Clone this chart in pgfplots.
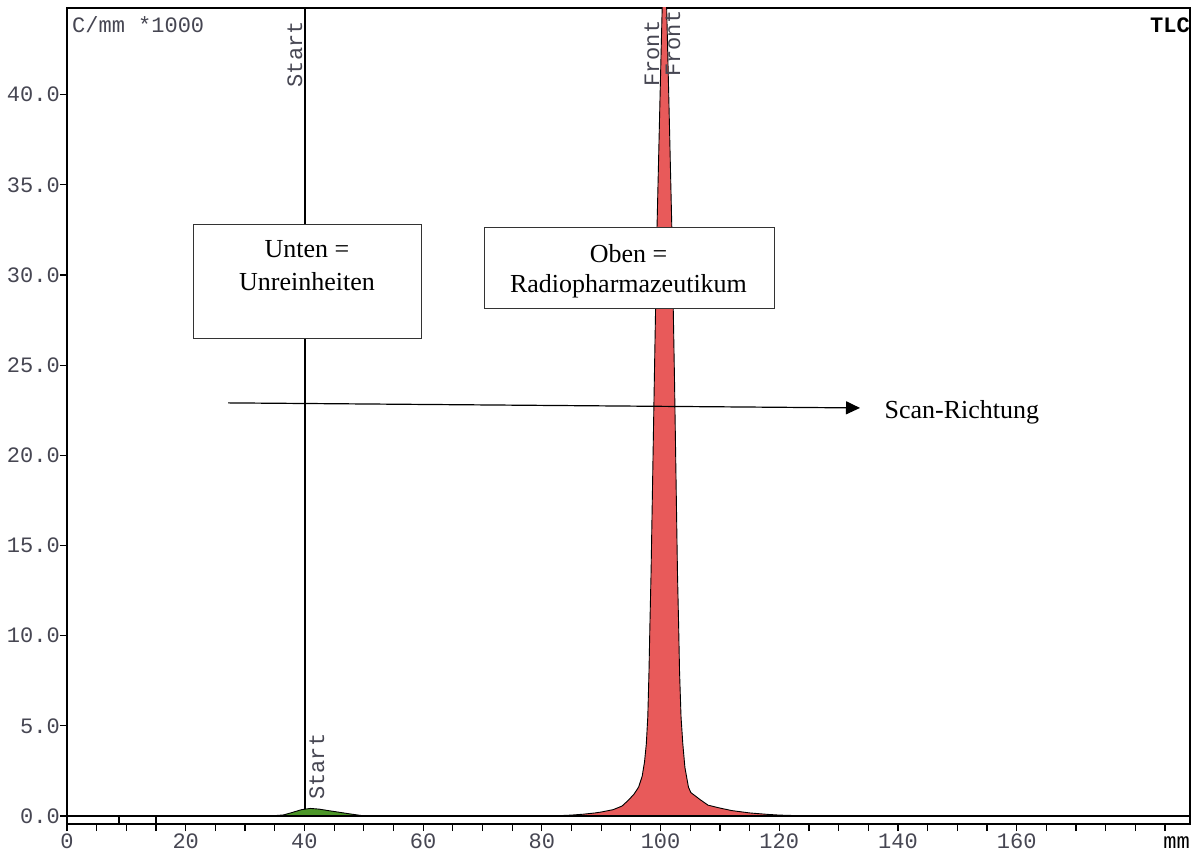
\documentclass[border=0pt]{standalone}
\usepackage{fontspec}
\setmainfont{Liberation Serif}
\setmonofont{Liberation Mono}
\usepackage{pgfplots}
\pgfplotsset{compat=1.18}
\usetikzlibrary{arrows.meta}
\definecolor{peakred}{RGB}{232,90,90}
\definecolor{peakgreen}{RGB}{76,150,40}
\definecolor{lblgray}{RGB}{70,70,82}
\newcommand\mono{\ttfamily\fontsize{22bp}{26bp}\selectfont}
\newcommand\serif{\rmfamily\fontsize{26bp}{32bp}\selectfont}
\begin{document}
\begin{tikzpicture}
\useasboundingbox (0,0) rectangle (1195bp,853bp);
\begin{axis}[
  at={(67bp,29bp)}, anchor=south west,
  width=1123bp, height=816bp, scale only axis,
  xmin=0, xmax=189.2, ymin=-0.444, ymax=44.81,
  axis line style={line width=1.3bp},
  clip mode=individual,
  xtick={0,5,...,185},
  xticklabels={0,,,,20,,,,40,,,,60,,,,80,,,,100,,,,120,,,,140,,,,160,,,,,,},
  ytick={0,5,...,40},
  yticklabels={0.0,5.0,10.0,15.0,20.0,25.0,30.0,35.0,40.0},
  tick align=outside, xtick pos=bottom, ytick pos=left,
  major tick length=7bp,
  tick style={line width=1.2bp, black},
  xticklabel style={font=\mono, text=lblgray, inner sep=0pt, yshift=-3bp},
  yticklabel style={font=\mono, text=lblgray, inner sep=0pt},
]
% vertical marker lines
\draw[line width=1.2bp] (axis cs:40.1,0) -- (axis cs:40.1,44.81);
\draw[line width=2.5bp] (axis cs:100.45,0) -- (axis cs:100.45,44.81);
% main peak
\addplot[draw=black, line width=0.9bp, fill=peakred] coordinates {
 (82,0) (83,0.02) (85,0.05) (87,0.1) (89,0.17) (90,0.22) (92,0.35)
 (93.5,0.55) (94.5,0.85) (95.5,1.2) (96.3,1.6) (96.9,2.2) (97.3,3.0) (97.6,4.0) (97.85,5.5)
 (98.05,8) (98.2,10.5) (98.4,13.5) (98.95,24.2) (99.4,32.6) (99.9,39.7) (100.65,50)
 (101.4,39.7) (101.9,32.6) (102.35,24.2) (102.85,13.5) (103.05,10.5) (103.2,8)
 (103.45,5.5) (103.75,4.0) (104.1,2.7) (104.7,1.6) (105.1,1.3) (106.7,0.9) (108,0.6)
 (110,0.44) (112,0.3) (115,0.17) (118,0.09) (120,0.05) (123,0.02) (124,0)
} \closedcycle;
% impurity peak
\addplot[draw=black, line width=0.9bp, fill=peakgreen] coordinates {
 (34.5,0) (35,0.02) (36.5,0.06) (38,0.2) (39.5,0.35) (41,0.42) (42.5,0.38)
 (44,0.3) (46,0.2) (48,0.1) (49.5,0.03) (51,0.01) (51.5,0)
} \closedcycle;
% baseline
\draw[line width=1.2bp] (axis cs:0,0) -- (axis cs:189.2,0);
% small region marks
\draw[line width=1.2bp] (axis cs:8.76,0) -- (axis cs:8.76,-0.444);
\draw[line width=1.2bp] (axis cs:15.0,0) -- (axis cs:15.0,-0.444);
\draw[line width=1.2bp] (axis cs:8.76,44.81) -- ++(0,-9bp);
\draw[line width=1.2bp] (axis cs:15.0,44.81) -- ++(0,-9bp);
% arrow
\draw[line width=1.2bp, -{Triangle[length=14bp,width=13bp]}] (axis cs:27.13,22.91) -- (axis cs:133.6,22.63);
\node[font=\serif, anchor=base west] at (axis cs:137.15,22.07) {Scan-Richtung};
% boxes
\draw[line width=1bp, draw=black!80, fill=white] (axis cs:21.23,32.83) rectangle (axis cs:59.65,26.46);
\node[font=\serif, anchor=base] at (axis cs:40.44,30.95) {Unten =};
\node[font=\serif, anchor=base] at (axis cs:40.44,29.17) {Unreinheiten};
\draw[line width=1bp, draw=black!80, fill=white] (axis cs:70.26,32.61) rectangle (axis cs:119.12,28.12);
\node[font=\serif, anchor=base] at (axis cs:94.6,30.67) {Oben =};
\node[font=\serif, anchor=base] at (axis cs:94.6,29.01) {Radiopharmazeutikum};
% texts
\node[font=\mono, text=lblgray, anchor=base west, inner sep=0pt] at (axis cs:0.84,43.43) {C/mm *1000};
\node[font=\mono\bfseries, text=black, anchor=base east, inner sep=0pt] at (axis cs:189.2,43.43) {TLC};
\node[font=\mono, text=black, anchor=base east, inner sep=0pt] at (axis cs:189.2,-1.775) {mm};
\node[font=\mono, text=lblgray, rotate=90, anchor=base west, inner sep=0pt] at (axis cs:39.6,40.4) {Start};
\node[font=\mono, text=lblgray, rotate=90, anchor=base west, inner sep=0pt] at (axis cs:43.3,0.89) {Start};
\node[font=\mono, text=lblgray, rotate=90, anchor=base west, inner sep=0pt] at (axis cs:99.75,40.43) {Front};
\node[font=\mono, text=lblgray, rotate=90, anchor=base west, inner sep=0pt] at (axis cs:103.29,40.99) {Front};
\end{axis}
\end{tikzpicture}
\end{document}
